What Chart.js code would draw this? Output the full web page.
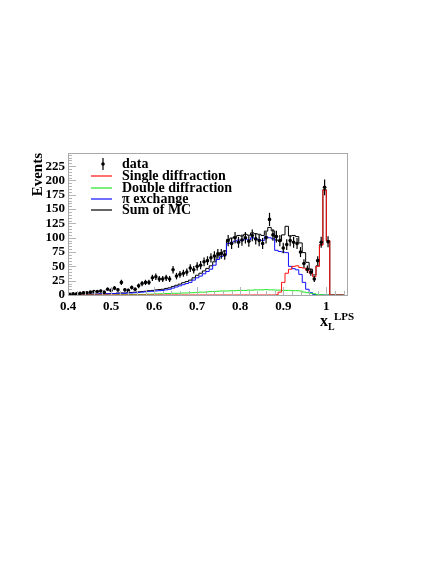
<!DOCTYPE html>
<html>
<head>
<meta charset="utf-8">
<script src="https://cdn.jsdelivr.net/npm/chart.js@4"></script>
<style>
  html, body { margin: 0; padding: 0; background: #fff; }
  canvas { display: block; }
</style>
</head>
<body>
<canvas id="xlChart" width="436" height="564"></canvas>
<script>
// x_L bin centres (bins 0.008 wide)
const binCenters = [
  0.404, 0.412, 0.420, 0.428, 0.436, 0.444, 0.452, 0.460, 0.468, 0.476,
  0.484, 0.492, 0.500, 0.508, 0.516, 0.524, 0.532, 0.540, 0.548, 0.556,
  0.564, 0.572, 0.580, 0.588, 0.596, 0.604, 0.612, 0.620, 0.628, 0.636,
  0.644, 0.652, 0.660, 0.668, 0.676, 0.684, 0.692, 0.700, 0.708, 0.716,
  0.724, 0.732, 0.740, 0.748, 0.756, 0.764, 0.772, 0.780, 0.788, 0.796,
  0.804, 0.812, 0.820, 0.828, 0.836, 0.844, 0.852, 0.860, 0.868, 0.876,
  0.884, 0.892, 0.900, 0.908, 0.916, 0.924, 0.932, 0.940, 0.948, 0.956,
  0.964, 0.972, 0.980, 0.988, 0.996, 1.004, 1.012, 1.020, 1.028, 1.036
];
const binWidth = 0.008;

// measured events (one per bin, up to x_L = 1.004)
const dataEvents = [
  1, 2, 2, 3, 4, 4, 5, 6, 6, 7,
  5, 10, 8, 12, 9, 22, 9, 8, 13, 10,
  16, 20, 22, 22, 30, 32, 28, 28, 30, 28,
  44, 33, 36, 38, 40, 47, 44, 50, 52, 58,
  60, 65, 68, 72, 72, 70, 95, 90, 100, 92,
  96, 100, 94, 104, 98, 95, 90, 100, 132, 105,
  102, 95, 82, 88, 95, 92, 90, 75, 55, 45,
  40, 28, 60, 92, 188, 93
];
const dataErrors = [
  1, 1.4, 1.4, 1.7, 2, 2, 2.2, 2.4, 2.4, 2.6,
  2.2, 3.2, 2.8, 3.5, 3, 4.7, 3, 2.8, 3.6, 3.2,
  4, 4.5, 4.7, 4.7, 5.5, 5.7, 5.3, 5.3, 5.5, 5.3,
  6.6, 5.7, 6, 6.2, 6.3, 6.9, 6.6, 7.1, 7.2, 7.6,
  7.7, 8.1, 8.2, 8.5, 8.5, 8.4, 9.7, 9.5, 10, 9.6,
  9.8, 10, 9.7, 10.2, 9.9, 9.7, 9.5, 10, 11.5, 10.2,
  10.1, 9.7, 9.1, 9.4, 9.7, 9.6, 9.5, 8.7, 7.4, 6.7,
  6.3, 5.3, 7.7, 9.6, 13.7, 9.6
];

// Monte Carlo histograms
const singleDiff = [
  0, 0, 0, 0, 0, 0, 0, 0, 0, 0,
  0, 0, 0, 0, 0, 0, 0, 0, 0, 0,
  0, 0, 0, 0, 0, 0, 0, 0, 0, 0,
  0, 0, 0, 0, 0, 0, 0, 0, 0, 0,
  0, 0, 0, 0, 0, 0, 0, 0, 0, 0,
  0, 0, 0, 0, 0, 0, 0, 0, 0, 0,
  0.5, 5, 22, 38, 45, 50, 51, 48, 47, 43,
  38, 32, 50, 87, 183, 95, 0, 0, 0, 0
];
const doubleDiff = [
  0, 0, 0, 0, 0, 0, 0, 0, 0, 0,
  0, 0, 0, 0, 0.5, 0.5, 0.5, 0.5, 1, 1,
  1, 1, 1, 1.5, 1.5, 2, 2, 2, 2.5, 2.5,
  3, 3, 3, 3.5, 3.5, 4, 4, 4.5, 5, 5,
  5.5, 6, 6, 6.5, 7, 7, 7, 7.5, 7.5, 8,
  8, 8, 8.5, 8.5, 9, 9, 9, 9.5, 9, 9,
  8.5, 8.5, 8, 8, 8, 7.5, 7.5, 7, 5, 4,
  3, 2, 1, 0.5, 0, 0, 0, 0, 0, 0
];
const piExchange = [
  0.3, 0.5, 0.5, 1, 1, 1, 1.5, 1.5, 1.5, 2,
  2, 2, 2.5, 2.5, 3, 3, 3, 3.5, 3.5, 4,
  4.5, 5, 5.5, 6, 6.5, 7, 7.5, 8, 9, 10,
  12, 14, 16, 18, 20, 22, 26, 30, 33, 37,
  41, 45, 52, 62, 67, 70, 90, 92, 94, 96,
  95, 98, 96, 100, 98, 97, 95, 102, 100, 98,
  78, 76, 75, 74, 50, 46, 44, 36, 22, 10,
  4, 1, 0, 0, 0, 0, 0, 0, 0, 0
];
const sumMC = [
  0.3, 0.5, 0.5, 1, 1, 1, 1.5, 1.5, 1.5, 2,
  2, 2, 2.5, 2.5, 3.5, 3.5, 3.5, 4, 4.5, 5,
  5.5, 6, 6.5, 7.5, 8, 9, 9.5, 10, 11.5, 12.5,
  15, 17, 19, 21.5, 23.5, 26, 30, 34.5, 38, 42,
  46.5, 51, 58, 68.5, 74, 77, 97, 99.5, 101.5, 104,
  103, 106, 104.5, 108.5, 107, 106, 104, 111.5, 118, 112,
  96, 94, 105, 120, 103, 104, 102, 91, 74, 57,
  45, 35, 51, 88, 184, 95, 0, 0, 0, 0
];

const xTicks = [0.4, 0.5, 0.6, 0.7, 0.8, 0.9, 1.0];
const yTicks = [0, 25, 50, 75, 100, 125, 150, 175, 200, 225];

const labelFont = '"Liberation Serif", "Times New Roman", serif';

// histogram outline: value of a bin held from its low edge to the next edge
function histPoints(values) {
  const pts = binCenters.map((c, i) => ({ x: c - binWidth / 2, y: values[i] }));
  const last = binCenters.length - 1;
  pts.push({ x: binCenters[last] + binWidth / 2, y: values[last] });
  return pts;
}

function histDataset(label, values, color) {
  return {
    label: label,
    data: histPoints(values),
    borderColor: color,
    backgroundColor: color,
    borderWidth: 1,
    pointRadius: 0,
    stepped: true,
    fill: false
  };
}

const ctx = document.getElementById('xlChart').getContext('2d');

// frame, tick marks and error bars in ROOT style
const rootFramePlugin = {
  id: 'rootFrame',
  afterDatasetsDraw(chart) {
    const { ctx, chartArea: { left, right, top, bottom }, scales: { x, y } } = chart;
    ctx.save();

    // error bars
    ctx.strokeStyle = '#000';
    ctx.lineWidth = 1.2;
    dataEvents.forEach((v, i) => {
      const px = x.getPixelForValue(binCenters[i]);
      ctx.beginPath();
      ctx.moveTo(px, y.getPixelForValue(Math.max(0, v - dataErrors[i])));
      ctx.lineTo(px, y.getPixelForValue(v + dataErrors[i]));
      ctx.stroke();
    });

    // tick marks inside the frame
    ctx.strokeStyle = '#b5b5b5';
    ctx.lineWidth = 1;
    for (let v = 0; v <= 245; v += 5) {
      const py = Math.round(y.getPixelForValue(v)) + 0.5;
      const len = v % 25 === 0 ? 8 : 4;
      ctx.beginPath();
      ctx.moveTo(left, py);
      ctx.lineTo(left + len, py);
      ctx.stroke();
    }
    for (let k = 0; k <= 32; k++) {
      const v = 0.4 + k * 0.02;
      const px = Math.round(x.getPixelForValue(v)) + 0.5;
      const len = k % 5 === 0 ? 8 : 4;
      ctx.beginPath();
      ctx.moveTo(px, bottom);
      ctx.lineTo(px, bottom - len);
      ctx.stroke();
    }

    // frame
    ctx.strokeStyle = '#a8a8a8';
    ctx.strokeRect(left + 0.5, top + 0.5, right - left, bottom - top);
    ctx.restore();
  },
  afterDraw(chart) {
    const { ctx, chartArea: { top } } = chart;
    ctx.save();
    ctx.fillStyle = '#000';

    // y axis title
    ctx.save();
    ctx.translate(42, top);
    ctx.rotate(-Math.PI / 2);
    ctx.font = 'bold 15px ' + labelFont;
    ctx.textAlign = 'right';
    ctx.textBaseline = 'alphabetic';
    ctx.fillText('Events', 0, 0);
    ctx.restore();

    // x axis title  x_L^LPS
    ctx.textAlign = 'left';
    ctx.textBaseline = 'alphabetic';
    ctx.font = 'bold 16px ' + labelFont;
    ctx.fillText('x', 320, 326);
    ctx.font = 'bold 10px ' + labelFont;
    ctx.fillText('L', 328, 330);
    ctx.font = 'bold 11px ' + labelFont;
    ctx.fillText('LPS', 334, 320);

    // legend
    const rows = [164, 176, 188, 199, 210];
    chart.data.datasets.forEach((ds, i) => {
      const ry = rows[i];
      if (i === 0) {
        ctx.strokeStyle = '#000';
        ctx.lineWidth = 1.2;
        ctx.beginPath();
        ctx.moveTo(103, ry - 6);
        ctx.lineTo(103, ry + 6);
        ctx.stroke();
        ctx.beginPath();
        ctx.arc(103, ry, 1.8, 0, Math.PI * 2);
        ctx.fill();
      } else {
        ctx.strokeStyle = ds.borderColor;
        ctx.lineWidth = 1.2;
        ctx.beginPath();
        ctx.moveTo(91, ry);
        ctx.lineTo(112, ry);
        ctx.stroke();
      }
      ctx.font = 'bold 14px ' + labelFont;
      ctx.textBaseline = 'middle';
      ctx.fillText(ds.label, 122, ry);
    });
    ctx.restore();
  }
};

new Chart(ctx, {
  type: 'line',
  data: {
    datasets: [
      {
        label: 'data',
        data: dataEvents.map((v, i) => ({ x: binCenters[i], y: v })),
        showLine: false,
        pointRadius: 1.8,
        pointBackgroundColor: '#000',
        pointBorderWidth: 0,
        borderColor: '#000',
        backgroundColor: '#000'
      },
      histDataset('Single diffraction', singleDiff, '#ff1010'),
      histDataset('Double diffraction', doubleDiff, '#22e622'),
      histDataset('\u03c0 exchange', piExchange, '#1010ff'),
      histDataset('Sum of MC', sumMC, '#000000')
    ]
  },
  options: {
    responsive: false,
    animation: false,
    events: [],
    layout: {
      padding: { top: 153, right: 89, bottom: 244, left: 0 }
    },
    scales: {
      x: {
        type: 'linear',
        min: 0.4,
        max: 1.048,
        grid: { display: false, drawTicks: false },
        border: { display: false },
        afterBuildTicks: scale => { scale.ticks = xTicks.map(v => ({ value: v })); },
        afterFit: scale => { scale.height = 25; },
        ticks: {
          padding: 4,
          color: '#000',
          maxRotation: 0,
          autoSkip: false,
          font: { family: labelFont, size: 13, weight: 'bold' },
          callback: v => (v === 1 ? '1' : v.toFixed(1))
        }
      },
      y: {
        min: 0,
        max: 248,
        grid: { display: false, drawTicks: false },
        border: { display: false },
        afterBuildTicks: scale => { scale.ticks = yTicks.map(v => ({ value: v })); },
        afterFit: scale => { scale.width = 68; },
        ticks: {
          padding: 3,
          color: '#000',
          autoSkip: false,
          font: { family: labelFont, size: 13, weight: 'bold' }
        }
      }
    },
    plugins: {
      legend: { display: false },
      tooltip: { enabled: false }
    }
  },
  plugins: [rootFramePlugin]
});
</script>
</body>
</html>
